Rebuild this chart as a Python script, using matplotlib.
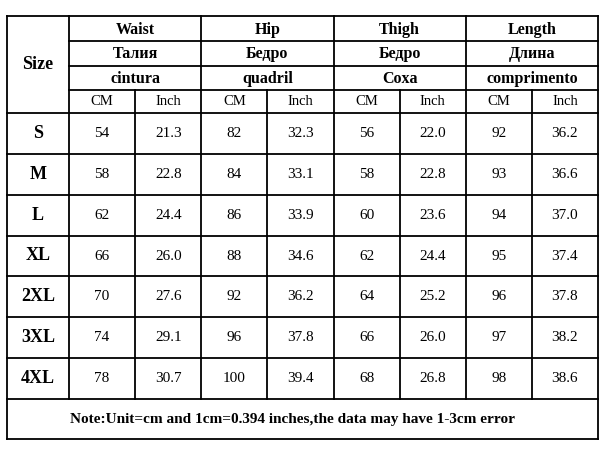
import matplotlib.pyplot as plt

SIZES = ['S', 'M', 'L', 'XL', '2XL', '3XL', '4XL']
GROUPS = ['Waist', 'Hip', 'Thigh', 'Length']
GROUPS_RU = ['Талия', 'Бедро', 'Бедро', 'Длина']
GROUPS_PT = ['cintura', 'quadril', 'Coxa', 'comprimento']
UNITS = ['CM', 'Inch']
WAIST_CM = [54, 58, 62, 66, 70, 74, 78]
WAIST_IN = [21.3, 22.8, 24.4, 26.0, 27.6, 29.1, 30.7]
HIP_CM = [82, 84, 86, 88, 92, 96, 100]
HIP_IN = [32.3, 33.1, 33.9, 34.6, 36.2, 37.8, 39.4]
THIGH_CM = [56, 58, 60, 62, 64, 66, 68]
THIGH_IN = [22.0, 22.8, 23.6, 24.4, 25.2, 26.0, 26.8]
LENGTH_CM = [92, 93, 94, 95, 96, 97, 98]
LENGTH_IN = [36.2, 36.6, 37.0, 37.4, 37.8, 38.2, 38.6]
NOTE = 'Note:Unit=cm and 1cm=0.394 inches,the data may have 1-3cm error'

plt.rcParams['font.family'] = 'Liberation Serif'
fig = plt.figure(figsize=(6.12, 4.5), dpi=100)
ax = fig.add_axes([0, 0, 1, 1])
ax.set_xlim(0, 612)
ax.set_ylim(450, 0)
ax.axis('off')

L, R, T, B = 7, 598, 16, 439
xs = [69 + i * (R - 69) / 8 for i in range(9)]
hy = [16, 41, 66, 90, 113]
dy = [113 + i * (399 - 113) / 7 for i in range(8)]
lw = 1.3

def hl(y, x0, x1):
    ax.plot([x0, x1], [y, y], color='black', lw=lw)

def vl(x, y0, y1):
    ax.plot([x, x], [y0, y1], color='black', lw=lw)

# frame and grid
hl(T, L, R); hl(B, L, R)
vl(L, T, B); vl(R, T, B)
for y in hy[1:4]:
    hl(y, xs[0], R)
for y in dy:
    hl(y, L, R)
vl(xs[0], T, 399)
for i in range(2, 8, 2):
    vl(xs[i], T, 399)
for i in range(1, 9, 2):
    vl(xs[i], hy[3], 399)

txt = dict(ha='center', va='center', color='black')
ax.text((L + xs[0]) / 2, (T + hy[4]) / 2, 'Size', fontsize=13, fontweight='bold', **txt)
for g in range(4):
    cx = (xs[2 * g] + xs[2 * g + 2]) / 2
    for r, lab in enumerate([GROUPS[g], GROUPS_RU[g], GROUPS_PT[g]]):
        ax.text(cx, (hy[r] + hy[r + 1]) / 2 + 1, lab, fontsize=11.5, fontweight='bold', **txt)
    for u in range(2):
        ax.text((xs[2 * g + u] + xs[2 * g + u + 1]) / 2, (hy[3] + hy[4]) / 2,
                UNITS[u], fontsize=10.5, **txt)

cols = [WAIST_CM, WAIST_IN, HIP_CM, HIP_IN, THIGH_CM, THIGH_IN, LENGTH_CM, LENGTH_IN]
for r, s in enumerate(SIZES):
    cy = (dy[r] + dy[r + 1]) / 2
    ax.text((L + xs[0]) / 2, cy, s, fontsize=13, fontweight='bold', **txt)
    for c, vals in enumerate(cols):
        v = vals[r]
        s_v = f'{v:.1f}' if c % 2 else f'{v}'
        ax.text((xs[c] + xs[c + 1]) / 2, cy, s_v, fontsize=11, **txt)

ax.text((L + R) / 2 - 10, (399 + B) / 2, NOTE, fontsize=11, fontweight='bold', **txt)

fig.savefig('out.png', dpi=100)
